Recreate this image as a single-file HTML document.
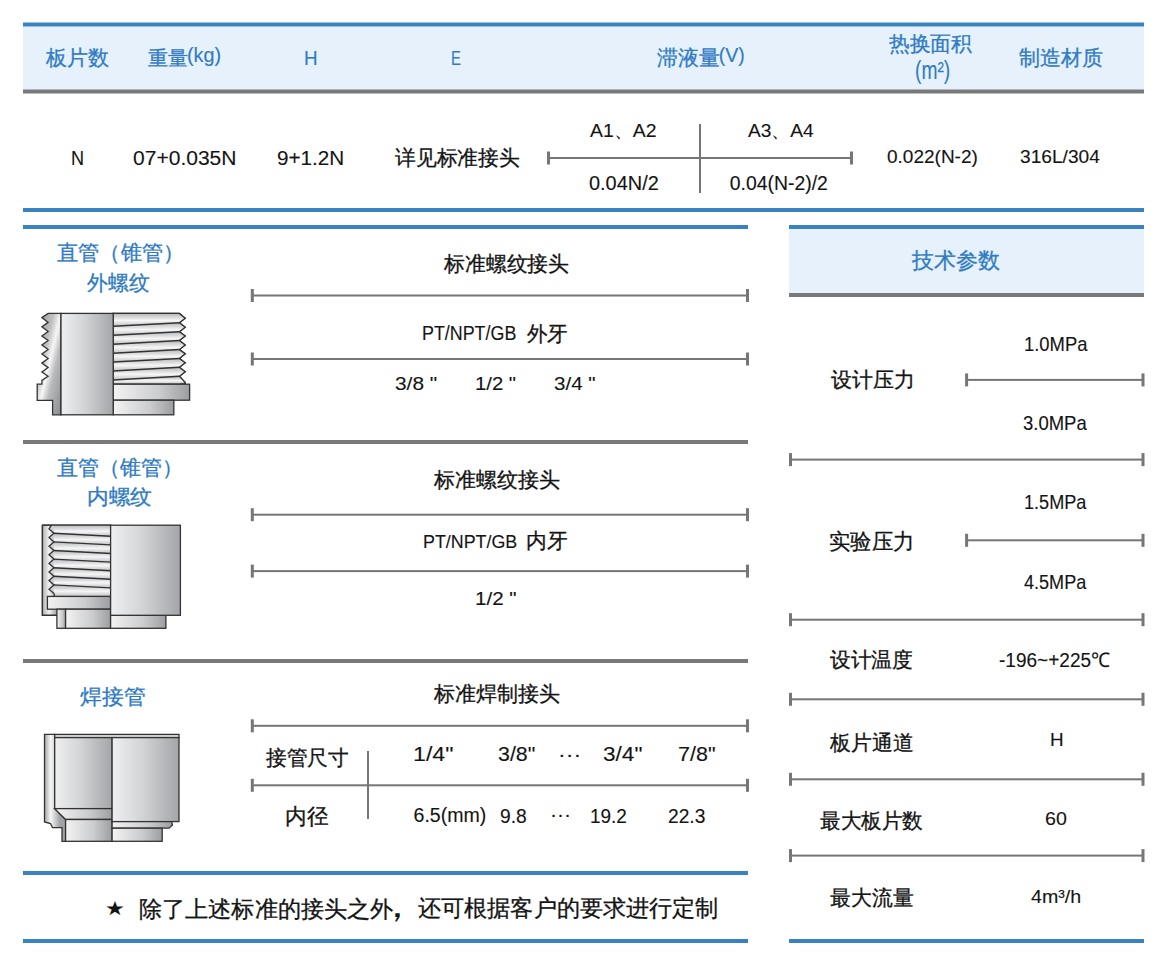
<!DOCTYPE html>
<html><head><meta charset="utf-8"><style>
html,body{margin:0;padding:0;background:#fff;width:1170px;height:975px;overflow:hidden}
body{position:relative;font-family:"Liberation Sans",sans-serif}
span{position:absolute;white-space:pre;line-height:1;transform-origin:0 0;-webkit-text-stroke:0.12px currentColor}
.c{-webkit-text-stroke:0.3px currentColor}
svg{position:absolute;left:0;top:0}
</style></head><body>
<svg width="1170" height="975" viewBox="0 0 1170 975">
<rect x="23" y="27" width="1121" height="63" fill="#e6f1fb"/>
<rect x="23" y="22.5" width="1121" height="4" fill="#3a83c2"/>
<rect x="23" y="89.5" width="1121" height="4" fill="#7a797a"/>
<rect x="23" y="208" width="1121" height="4" fill="#3a83c2"/>
<rect x="548.5" y="157.0" width="303.0" height="2" fill="#75767a"/><rect x="547.0" y="151.5" width="3" height="13" fill="#75767a"/><rect x="850.0" y="151.5" width="3" height="13" fill="#75767a"/>
<rect x="699" y="124" width="2" height="69" fill="#75767a"/>
<rect x="23" y="225" width="725" height="4" fill="#3a83c2"/>
<rect x="23" y="440" width="725" height="4" fill="#7a797a"/>
<rect x="23" y="659" width="725" height="4" fill="#7a797a"/>
<rect x="23" y="871" width="725" height="4" fill="#3a83c2"/>
<rect x="23" y="939" width="725" height="4" fill="#3a83c2"/>
<rect x="789" y="229" width="355" height="64" fill="#e6f1fb"/>
<rect x="789" y="225" width="355" height="4" fill="#3a83c2"/>
<rect x="789" y="293" width="355" height="4" fill="#7a797a"/>
<rect x="789" y="939" width="355" height="4" fill="#3a83c2"/>
<rect x="252.3" y="294.5" width="495.2" height="2" fill="#75767a"/><rect x="250.8" y="289.0" width="3" height="13" fill="#75767a"/><rect x="746.0" y="289.0" width="3" height="13" fill="#75767a"/>
<rect x="252.3" y="358.0" width="495.2" height="2" fill="#75767a"/><rect x="250.8" y="352.5" width="3" height="13" fill="#75767a"/><rect x="746.0" y="352.5" width="3" height="13" fill="#75767a"/>
<rect x="252.3" y="513.7" width="495.2" height="2" fill="#75767a"/><rect x="250.8" y="508.2" width="3" height="13" fill="#75767a"/><rect x="746.0" y="508.2" width="3" height="13" fill="#75767a"/>
<rect x="252.3" y="570.1" width="495.2" height="2" fill="#75767a"/><rect x="250.8" y="564.6" width="3" height="13" fill="#75767a"/><rect x="746.0" y="564.6" width="3" height="13" fill="#75767a"/>
<rect x="252.3" y="724.8" width="495.2" height="2" fill="#75767a"/><rect x="250.8" y="719.3" width="3" height="13" fill="#75767a"/><rect x="746.0" y="719.3" width="3" height="13" fill="#75767a"/>
<rect x="252.3" y="784.3" width="495.2" height="2" fill="#75767a"/><rect x="250.8" y="778.8" width="3" height="13" fill="#75767a"/><rect x="746.0" y="778.8" width="3" height="13" fill="#75767a"/>
<rect x="367" y="751" width="2" height="68" fill="#75767a"/>
<rect x="966.6" y="378.9" width="176.4" height="2" fill="#75767a"/><rect x="965.1" y="373.4" width="3" height="13" fill="#75767a"/><rect x="1141.5" y="373.4" width="3" height="13" fill="#75767a"/>
<rect x="966.6" y="539.3" width="176.4" height="2" fill="#75767a"/><rect x="965.1" y="533.8" width="3" height="13" fill="#75767a"/><rect x="1141.5" y="533.8" width="3" height="13" fill="#75767a"/>
<rect x="790.5" y="458.6" width="352.5" height="2" fill="#75767a"/><rect x="789.0" y="453.1" width="3" height="13" fill="#75767a"/><rect x="1141.5" y="453.1" width="3" height="13" fill="#75767a"/>
<rect x="790.5" y="618.7" width="352.5" height="2" fill="#75767a"/><rect x="789.0" y="613.2" width="3" height="13" fill="#75767a"/><rect x="1141.5" y="613.2" width="3" height="13" fill="#75767a"/>
<rect x="790.5" y="698.3" width="352.5" height="2" fill="#75767a"/><rect x="789.0" y="692.8" width="3" height="13" fill="#75767a"/><rect x="1141.5" y="692.8" width="3" height="13" fill="#75767a"/>
<rect x="790.5" y="778.3" width="352.5" height="2" fill="#75767a"/><rect x="789.0" y="772.8" width="3" height="13" fill="#75767a"/><rect x="1141.5" y="772.8" width="3" height="13" fill="#75767a"/>
<rect x="790.5" y="854.6" width="352.5" height="2" fill="#75767a"/><rect x="789.0" y="849.1" width="3" height="13" fill="#75767a"/><rect x="1141.5" y="849.1" width="3" height="13" fill="#75767a"/>
<defs>
<linearGradient id="gH" x1="0" y1="0" x2="1" y2="0">
 <stop offset="0" stop-color="#eeeff0"/><stop offset="0.45" stop-color="#d3d4d6"/><stop offset="1" stop-color="#a3a5a8"/>
</linearGradient>
<linearGradient id="gH2" x1="0" y1="0" x2="1" y2="0">
 <stop offset="0" stop-color="#f3f3f4"/><stop offset="0.6" stop-color="#cbccce"/><stop offset="1" stop-color="#9c9ea1"/>
</linearGradient>
<linearGradient id="gD" x1="0" y1="0" x2="1" y2="1">
 <stop offset="0" stop-color="#939598"/><stop offset="0.35" stop-color="#bfc0c2"/><stop offset="0.5" stop-color="#f6f6f6"/><stop offset="0.65" stop-color="#b9babc"/><stop offset="1" stop-color="#8a8c8f"/>
</linearGradient>
<linearGradient id="gV" x1="0" y1="0" x2="1" y2="0">
 <stop offset="0" stop-color="#a9abae"/><stop offset="0.5" stop-color="#f4f4f4"/><stop offset="1" stop-color="#9fa1a4"/>
</linearGradient>
<linearGradient id="gW3" gradientUnits="userSpaceOnUse" x1="44.5" y1="0" x2="60" y2="0">
 <stop offset="0" stop-color="#a4a6a9"/><stop offset="0.4" stop-color="#f6f6f6"/><stop offset="1" stop-color="#a0a2a5"/>
</linearGradient>
<linearGradient id="gW2" gradientUnits="userSpaceOnUse" x1="42.4" y1="0" x2="56" y2="0">
 <stop offset="0" stop-color="#b0b2b5"/><stop offset="0.5" stop-color="#f2f2f2"/><stop offset="1" stop-color="#a9abae"/>
</linearGradient>
<linearGradient id="gT" x1="0" y1="0" x2="0" y2="1">
 <stop offset="0" stop-color="#b4b6b9"/><stop offset="0.55" stop-color="#f6f6f6"/><stop offset="1" stop-color="#bfc0c3"/>
</linearGradient>
</defs>
<polygon points="61.0,313.4 48.1,313.4 41.9,317.6 48.1,322.4 41.9,326.8 48.1,331.5 41.9,335.9 48.1,340.5 41.9,345.0 48.1,349.6 41.9,354.0 48.1,358.6 41.9,363.1 48.1,367.6 41.9,372.0 48.1,376.2 41.9,380.4 41.9,384.2 37.2,384.2 37.2,400.4 52.6,400.4 52.6,414.8 61.0,414.8" fill="url(#gD)" stroke="#333" stroke-width="1.3" stroke-linejoin="miter"/>
<polygon points="113.2,313.4 179.4,313.4 185.2,318.2 179.4,322.7 185.2,327.2 179.4,331.7 185.2,336.0 179.4,340.6 185.2,344.9 179.4,349.6 185.2,353.8 179.4,358.4 185.2,362.7 179.4,367.3 185.2,371.8 179.4,376.3 185.2,382.4 185.2,384.2 113.2,384.2" fill="#c9cacc" stroke="#333" stroke-width="1.3" stroke-linejoin="miter"/>
<polygon points="113.2,313.4 179.4,313.4 185.0,318.0 179.4,322.7 113.2,326.3" fill="url(#gT)" stroke="none"/>
<polygon points="113.2,326.3 179.4,322.7 185.0,327.2 179.4,331.7 113.2,335.3" fill="url(#gT)" stroke="none"/>
<polygon points="113.2,335.3 179.4,331.7 185.0,336.1 179.4,340.6 113.2,344.2" fill="url(#gT)" stroke="none"/>
<polygon points="113.2,344.2 179.4,340.6 185.0,345.1 179.4,349.6 113.2,353.2" fill="url(#gT)" stroke="none"/>
<polygon points="113.2,353.2 179.4,349.6 185.0,354.0 179.4,358.4 113.2,362.0" fill="url(#gT)" stroke="none"/>
<polygon points="113.2,362.0 179.4,358.4 185.0,362.9 179.4,367.3 113.2,370.9" fill="url(#gT)" stroke="none"/>
<polygon points="113.2,370.9 179.4,367.3 185.0,371.8 179.4,376.3 113.2,379.9" fill="url(#gT)" stroke="none"/>
<polygon points="113.2,379.9 179.4,376.3 185.0,380.2 179.4,384.2 113.2,384.2" fill="url(#gT)" stroke="none"/>
<line x1="113.2" y1="326.3" x2="179.6" y2="322.7" stroke="#333" stroke-width="1.5"/>
<line x1="113.2" y1="335.3" x2="179.6" y2="331.7" stroke="#333" stroke-width="1.5"/>
<line x1="113.2" y1="344.2" x2="179.6" y2="340.6" stroke="#333" stroke-width="1.5"/>
<line x1="113.2" y1="353.2" x2="179.6" y2="349.6" stroke="#333" stroke-width="1.5"/>
<line x1="113.2" y1="362.0" x2="179.6" y2="358.4" stroke="#333" stroke-width="1.5"/>
<line x1="113.2" y1="370.9" x2="179.6" y2="367.3" stroke="#333" stroke-width="1.5"/>
<line x1="113.2" y1="379.9" x2="179.6" y2="376.3" stroke="#333" stroke-width="1.5"/>
<polygon points="113.2,313.4 179.4,313.4 185.2,318.2 179.4,322.7 185.2,327.2 179.4,331.7 185.2,336.0 179.4,340.6 185.2,344.9 179.4,349.6 185.2,353.8 179.4,358.4 185.2,362.7 179.4,367.3 185.2,371.8 179.4,376.3 185.2,382.4 185.2,384.2 113.2,384.2" fill="none" stroke="#333" stroke-width="1.3" stroke-linejoin="miter"/>
<rect x="113.2" y="384.2" width="76.4" height="16.0" fill="url(#gH2)" stroke="#333" stroke-width="1.3" stroke-linejoin="miter"/>
<rect x="113.2" y="400.2" width="60.6" height="14.6" fill="url(#gH2)" stroke="#333" stroke-width="1.3" stroke-linejoin="miter"/>
<rect x="61.0" y="313.4" width="52.2" height="101.4" fill="url(#gH)" stroke="#333" stroke-width="1.3" stroke-linejoin="miter"/>
<rect x="42.4" y="525.2" width="68.2" height="90.1" fill="url(#gW2)" stroke="#333" stroke-width="1.3" stroke-linejoin="miter"/>
<polygon points="110.6,525.2 51.5,525.2 49.0,529.0 54.0,533.3 49.0,537.6 54.0,541.9 49.0,546.2 54.0,550.5 49.0,554.8 54.0,559.1 49.0,563.4 54.0,567.7 49.0,572.0 54.0,576.3 49.0,580.6 54.0,584.9 49.0,589.2 54.0,593.5 54.5,596.4 110.6,596.4" fill="#cfd0d2" stroke="none"/>
<polygon points="54.0,525.2 110.6,525.2 110.6,536.3 54.0,533.3" fill="url(#gT)" stroke="none"/>
<polygon points="54.0,533.3 110.6,536.3 110.6,544.9 54.0,541.9" fill="url(#gT)" stroke="none"/>
<polygon points="54.0,541.9 110.6,544.9 110.6,553.5 54.0,550.5" fill="url(#gT)" stroke="none"/>
<polygon points="54.0,550.5 110.6,553.5 110.6,562.1 54.0,559.1" fill="url(#gT)" stroke="none"/>
<polygon points="54.0,559.1 110.6,562.1 110.6,570.7 54.0,567.7" fill="url(#gT)" stroke="none"/>
<polygon points="54.0,567.7 110.6,570.7 110.6,579.3 54.0,576.3" fill="url(#gT)" stroke="none"/>
<polygon points="54.0,576.3 110.6,579.3 110.6,587.9 54.0,584.9" fill="url(#gT)" stroke="none"/>
<polygon points="54.0,584.9 110.6,587.9 110.6,596.4 54.0,596.4" fill="url(#gT)" stroke="none"/>
<line x1="53.5" y1="533.3" x2="110.6" y2="536.3" stroke="#333" stroke-width="1.4"/>
<line x1="53.5" y1="541.9" x2="110.6" y2="544.9" stroke="#333" stroke-width="1.4"/>
<line x1="53.5" y1="550.5" x2="110.6" y2="553.5" stroke="#333" stroke-width="1.4"/>
<line x1="53.5" y1="559.1" x2="110.6" y2="562.1" stroke="#333" stroke-width="1.4"/>
<line x1="53.5" y1="567.7" x2="110.6" y2="570.7" stroke="#333" stroke-width="1.4"/>
<line x1="53.5" y1="576.3" x2="110.6" y2="579.3" stroke="#333" stroke-width="1.4"/>
<line x1="53.5" y1="584.9" x2="110.6" y2="587.9" stroke="#333" stroke-width="1.4"/>
<polyline points="51.5,525.2 49.0,529.0 54.0,533.3 49.0,537.6 54.0,541.9 49.0,546.2 54.0,550.5 49.0,554.8 54.0,559.1 49.0,563.4 54.0,567.7 49.0,572.0 54.0,576.3 49.0,580.6 54.0,584.9 49.0,589.2 54.0,593.5 54.5,596.4" fill="none" stroke="#333" stroke-width="1.3" stroke-linejoin="miter"/>
<rect x="47.4" y="596.4" width="63.2" height="12.8" fill="url(#gH2)" stroke="#333" stroke-width="1.3" stroke-linejoin="miter"/>
<rect x="56.9" y="609.2" width="8.7" height="19.1" fill="url(#gH2)" stroke="#333" stroke-width="1.3" stroke-linejoin="miter"/>
<rect x="65.6" y="609.2" width="45.0" height="19.1" fill="url(#gH2)" stroke="#333" stroke-width="1.3" stroke-linejoin="miter"/>
<rect x="110.6" y="615.3" width="55.3" height="13.0" fill="url(#gH2)" stroke="#333" stroke-width="1.3" stroke-linejoin="miter"/>
<rect x="110.6" y="525.2" width="69.8" height="90.1" fill="url(#gH)" stroke="#333" stroke-width="1.3" stroke-linejoin="miter"/>
<polyline points="42.4,525.2 42.4,615.3 56.9,615.3" fill="none" stroke="#333" stroke-width="1.3" stroke-linejoin="miter"/>
<line x1="42.4" y1="525.2" x2="110.6" y2="525.2" stroke="#333" stroke-width="1.3" stroke-linejoin="miter"/>
<polygon points="44.5,734.4 54.7,734.4 54.7,808.6 65.6,819.5 65.6,841.3 62.0,841.3 62.0,827.6 52.5,827.6 50.5,823.5 44.5,822.0" fill="url(#gW3)" stroke="#333" stroke-width="1.3" stroke-linejoin="miter"/>
<rect x="54.7" y="734.4" width="124.3" height="3.2" fill="#d9dadc" stroke="#333" stroke-width="1.3" stroke-linejoin="miter"/>
<rect x="54.7" y="737.6" width="57.4" height="71.0" fill="url(#gH)" stroke="#333" stroke-width="1.3" stroke-linejoin="miter"/>
<polygon points="54.7,808.6 112.1,808.6 112.1,819.5 65.6,819.5" fill="url(#gH2)" stroke="#333" stroke-width="1.3" stroke-linejoin="miter"/>
<rect x="65.6" y="819.5" width="46.5" height="21.8" fill="url(#gH2)" stroke="#333" stroke-width="1.3" stroke-linejoin="miter"/>
<rect x="112.1" y="737.6" width="66.9" height="84.0" fill="url(#gH)" stroke="#333" stroke-width="1.3" stroke-linejoin="miter"/>
<polygon points="112.1,821.6 171.5,821.6 172.5,825.0 169.0,828.2 112.1,828.2" fill="url(#gH2)" stroke="#333" stroke-width="1.3" stroke-linejoin="miter"/>
<rect x="112.1" y="828.2" width="50.1" height="13.1" fill="url(#gH2)" stroke="#333" stroke-width="1.3" stroke-linejoin="miter"/>
</svg>
<span id="t0" class="c" style="left:46.00px;top:48.41px;font-size:20.77px;color:#2f7bc4">板片数</span>
<span id="t1" class="c" style="left:147.59px;top:48.13px;font-size:20.36px;color:#2f7bc4">重量</span>
<span id="t2" style="left:187.41px;top:45.76px;font-size:19.50px;color:#2f7bc4;transform:scaleX(1.0160)">(kg)</span>
<span id="t3" style="left:303.94px;top:48.79px;font-size:19.42px;color:#2f7bc4;transform:scaleX(0.9691)">H</span>
<span id="t4" style="left:450.81px;top:48.79px;font-size:19.42px;color:#2f7bc4;transform:scaleX(0.7672)">E</span>
<span id="t5" class="c" style="left:656.68px;top:47.22px;font-size:20.99px;color:#2f7bc4">滞液量</span>
<span id="t6" style="left:718.83px;top:45.66px;font-size:19.50px;color:#2f7bc4">(V)</span>
<span id="t7" class="c" style="left:889.30px;top:33.76px;font-size:20.73px;color:#2f7bc4;transform:scaleX(0.9880)">热换面积</span>
<span id="t8" style="left:914.60px;top:57.50px;font-size:25.00px;color:#2f7bc4;transform:scaleX(0.7691)">(m²)</span>
<span id="t9" class="c" style="left:1018.79px;top:47.94px;font-size:20.91px;color:#2f7bc4">制造材质</span>
<span id="t10" style="left:71.16px;top:148.08px;font-size:20.14px;color:#141414;transform:scaleX(0.8970)">N</span>
<span id="t11" style="left:133.15px;top:148.15px;font-size:20.29px;color:#141414;transform:scaleX(1.0371)">07+0.035N</span>
<span id="t12" style="left:276.96px;top:147.90px;font-size:20.00px;color:#141414;transform:scaleX(1.0338)">9+1.2N</span>
<span id="t13" class="c" style="left:394.79px;top:148.13px;font-size:20.74px;color:#141414;transform:scaleX(0.9890)">详见标准接头</span>
<span id="t14" style="left:590.49px;top:120.82px;font-size:19.28px;color:#141414;transform:scaleX(1.0072)">A1、A2</span>
<span id="t15" style="left:747.50px;top:120.82px;font-size:19.28px;color:#141414;transform:scaleX(0.9936)">A3、A4</span>
<span id="t16" style="left:589.20px;top:174.09px;font-size:19.42px;color:#141414;transform:scaleX(1.0269)">0.04N/2</span>
<span id="t17" style="left:729.72px;top:174.09px;font-size:19.42px;color:#141414">0.04(N-2)/2</span>
<span id="t18" style="left:886.74px;top:147.79px;font-size:18.84px;color:#141414;transform:scaleX(1.0094)">0.022(N-2)</span>
<span id="t19" style="left:1019.73px;top:147.79px;font-size:18.84px;color:#141414;transform:scaleX(1.0162)">316L/304</span>
<span id="t20" class="c" style="left:56.55px;top:242.14px;font-size:21.16px;color:#2f7bc4;transform:scaleX(1.0109)">直管（锥管）</span>
<span id="t21" class="c" style="left:87.30px;top:273.10px;font-size:20.88px;color:#2f7bc4;transform:scaleX(0.9907)">外螺纹</span>
<span id="t22" class="c" style="left:56.56px;top:457.16px;font-size:21.13px;color:#2f7bc4">直管（锥管）</span>
<span id="t23" class="c" style="left:86.67px;top:487.36px;font-size:21.35px;color:#2f7bc4;transform:scaleX(1.0337)">内螺纹</span>
<span id="t24" class="c" style="left:79.73px;top:686.71px;font-size:21.37px;color:#2f7bc4;transform:scaleX(1.0395)">焊接管</span>
<span id="t25" class="c" style="left:444.00px;top:252.88px;font-size:21.02px;color:#141414;transform:scaleX(0.9938)">标准螺纹接头</span>
<span id="t26" style="left:422.07px;top:324.02px;font-size:19.86px;color:#141414;transform:scaleX(0.8998)">PT/NPT/GB</span>
<span id="t27" class="c" style="left:526.81px;top:324.44px;font-size:20.51px;color:#141414;transform:scaleX(0.9756)">外牙</span>
<span id="t28" style="left:394.65px;top:375.03px;font-size:18.55px;color:#141414;transform:scaleX(1.1257)">3/8 "</span>
<span id="t29" style="left:475.41px;top:375.03px;font-size:18.55px;color:#141414;transform:scaleX(1.0937)">1/2 "</span>
<span id="t30" style="left:554.17px;top:375.03px;font-size:18.55px;color:#141414;transform:scaleX(1.1119)">3/4 "</span>
<span id="t31" class="c" style="left:433.50px;top:468.87px;font-size:21.04px;color:#141414">标准螺纹接头</span>
<span id="t32" style="left:423.07px;top:532.80px;font-size:18.12px;color:#141414;transform:scaleX(0.9862)">PT/NPT/GB</span>
<span id="t33" class="c" style="left:526.42px;top:530.63px;font-size:20.53px;color:#141414;transform:scaleX(0.9849)">内牙</span>
<span id="t34" style="left:474.86px;top:590.55px;font-size:17.83px;color:#141414;transform:scaleX(1.1526)">1/2 "</span>
<span id="t35" class="c" style="left:433.50px;top:683.37px;font-size:21.04px;color:#141414">标准焊制接头</span>
<span id="t36" class="c" style="left:265.80px;top:748.24px;font-size:20.81px;color:#141414;transform:scaleX(0.9856)">接管尺寸</span>
<span id="t37" style="left:412.58px;top:744.43px;font-size:20.43px;color:#141414;transform:scaleX(1.1348)">1/4"</span>
<span id="t38" style="left:497.65px;top:744.43px;font-size:20.43px;color:#141414;transform:scaleX(1.0470)">3/8"</span>
<span id="t39" style="left:558.10px;top:743.50px;font-size:20.00px;color:#141414;transform:scaleX(1.1608)">···</span>
<span id="t40" style="left:602.59px;top:744.43px;font-size:20.43px;color:#141414;transform:scaleX(1.1059)">3/4"</span>
<span id="t41" style="left:678.43px;top:744.43px;font-size:20.43px;color:#141414;transform:scaleX(1.0534)">7/8"</span>
<span id="t42" class="c" style="left:284.82px;top:806.46px;font-size:21.85px;color:#141414;transform:scaleX(0.9811)">内径</span>
<span id="t43" style="left:413.53px;top:805.77px;font-size:19.57px;color:#141414">6.5(mm)</span>
<span id="t44" style="left:499.55px;top:807.07px;font-size:19.57px;color:#141414;transform:scaleX(0.9838)">9.8</span>
<span id="t45" style="left:550.10px;top:803.50px;font-size:20.00px;color:#141414;transform:scaleX(1.0563)">···</span>
<span id="t46" style="left:589.52px;top:807.07px;font-size:19.57px;color:#141414;transform:scaleX(0.9696)">19.2</span>
<span id="t47" style="left:668.02px;top:807.07px;font-size:19.57px;color:#141414;transform:scaleX(0.9811)">22.3</span>
<span id="t48" style="left:105.44px;top:898.70px;font-size:19.30px;color:#141414;transform:scaleX(1.1650)">★</span>
<span id="t49" class="c" style="left:138.82px;top:897.69px;font-size:23.13px;color:#141414;transform:scaleX(1.0054)">除了上述标准的接头之外</span>
<span id="t50" style="left:377.82px;top:889.78px;font-size:32.00px;color:#141414;transform:scaleX(1.2000)">，</span>
<span id="t51" class="c" style="left:418.04px;top:896.75px;font-size:23.23px;color:#141414;transform:scaleX(1.0054)">还可根据客户的要求进行定制</span>
<span id="t52" class="c" style="left:911.50px;top:249.59px;font-size:21.94px;color:#2f7bc4">技术参数</span>
<span id="t53" style="left:1024.03px;top:333.53px;font-size:20.43px;color:#141414;transform:scaleX(0.9004)">1.0MPa</span>
<span id="t54" class="c" style="left:831.29px;top:369.20px;font-size:21.09px;color:#141414">设计压力</span>
<span id="t55" style="left:1023.25px;top:412.75px;font-size:20.29px;color:#141414;transform:scaleX(0.9109)">3.0MPa</span>
<span id="t56" style="left:1023.57px;top:492.89px;font-size:19.42px;color:#141414;transform:scaleX(0.9325)">1.5MPa</span>
<span id="t57" class="c" style="left:828.78px;top:530.78px;font-size:21.66px;color:#141414;transform:scaleX(0.9693)">实验压力</span>
<span id="t58" style="left:1023.64px;top:572.89px;font-size:19.42px;color:#141414;transform:scaleX(0.9309)">4.5MPa</span>
<span id="t59" class="c" style="left:829.80px;top:650.05px;font-size:20.81px;color:#141414;transform:scaleX(0.9880)">设计温度</span>
<span id="t60" style="left:999.22px;top:649.58px;font-size:20.14px;color:#141414;transform:scaleX(0.9465)">-196~+225℃</span>
<span id="t61" class="c" style="left:830.00px;top:733.30px;font-size:20.89px;color:#141414;transform:scaleX(0.9928)">板片通道</span>
<span id="t62" style="left:1049.58px;top:732.09px;font-size:17.54px;color:#141414;transform:scaleX(1.0743)">H</span>
<span id="t63" class="c" style="left:819.59px;top:810.94px;font-size:20.71px;color:#141414;transform:scaleX(0.9808)">最大板片数</span>
<span id="t64" style="left:1044.54px;top:808.64px;font-size:19.13px;color:#141414;transform:scaleX(1.0264)">60</span>
<span id="t65" class="c" style="left:829.58px;top:887.79px;font-size:20.84px;color:#141414;transform:scaleX(0.9928)">最大流量</span>
<span id="t66" style="left:1031.11px;top:888.46px;font-size:18.63px;color:#141414;transform:scaleX(1.0546)">4m³/h</span>
</body></html>
